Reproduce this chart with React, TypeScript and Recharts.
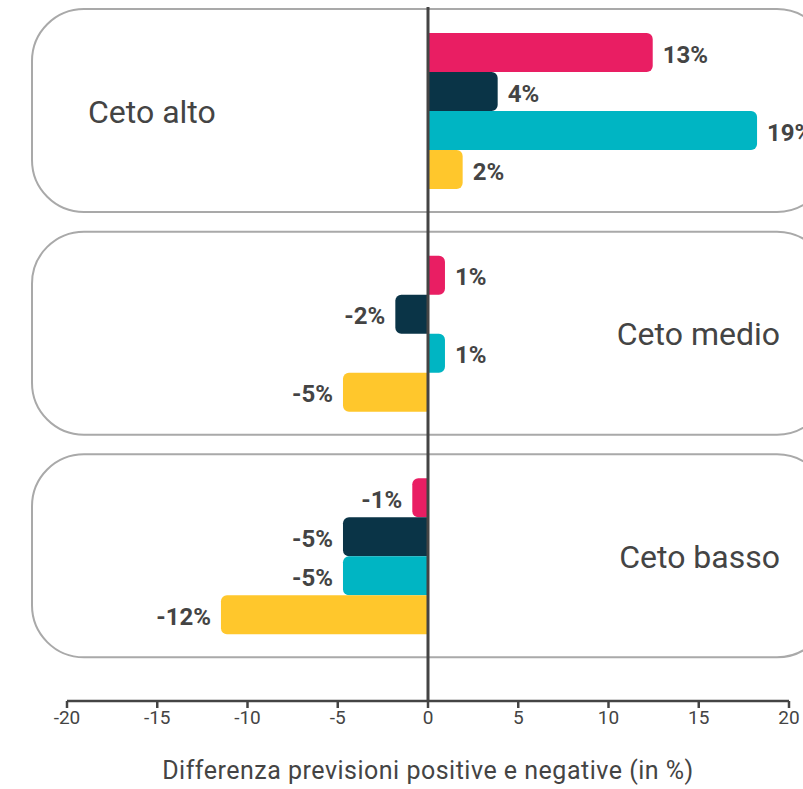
import { Bar, BarChart, LabelList, ReferenceLine, XAxis, YAxis } from "recharts";

const categories = ["Ceto alto", "Ceto medio", "Ceto basso"];

// bar lengths
const rosa = [12.45, 0.94, -0.87];
const blu = [3.86, -1.81, -4.71];
const azzurro = [18.23, 0.94, -4.71];
const giallo = [1.92, -4.71, -11.47];

// printed labels
const rosaLabel = [13, 1, -1];
const bluLabel = [4, -2, -5];
const azzurroLabel = [19, 1, -5];
const gialloLabel = [2, -5, -12];

const xTicks = [-20, -15, -10, -5, 0, 5, 10, 15, 20];

const data = categories.map((name, i) => ({
  name,
  rosa: rosa[i],
  blu: blu[i],
  azzurro: azzurro[i],
  giallo: giallo[i],
}));

const FONT = "Roboto, 'Open Sans', sans-serif";
const TEXT = "#444444";

function makeLabel(printed: number[]) {
  return (props: any) => {
    const vb = props.viewBox || props;
    const { x, y, width, height } = vb;
    const v = printed[props.index];
    const end = v >= 0 ? Math.max(x, x + width) : Math.min(x, x + width);
    return (
      <text
        x={v >= 0 ? end + 10 : end - 10}
        y={y + height / 2 + 2}
        textAnchor={v >= 0 ? "start" : "end"}
        dominantBaseline="central"
        fill={TEXT}
        fontFamily={FONT}
        fontWeight={700}
        fontSize={24}
      >
        {`${v}%`}
      </text>
    );
  };
}

function renderBox(props: any) {
  const { height, background, index } = props;
  const y = props.y - 1;
  const left = background.x - 35;
  const right = background.x + background.width + 40;
  const total = rosa[index] + blu[index] + azzurro[index] + giallo[index];
  const onLeft = total > 0;
  return (
    <g>
      <rect
        x={left}
        y={y}
        width={right - left}
        height={height}
        rx={52}
        ry={52}
        fill="#ffffff"
        stroke="#a9a9a9"
        strokeWidth={2}
      />
      <text
        x={onLeft ? left + 56 : background.x + background.width - 9}
        y={y + height / 2 + 1}
        textAnchor={onLeft ? "start" : "end"}
        dominantBaseline="central"
        fill={TEXT}
        fontFamily={FONT}
        fontSize={32}
      >
        {categories[index]}
      </text>
    </g>
  );
}

function renderZero(props: any) {
  return (
    <line
      x1={props.x1}
      x2={props.x2}
      y1={Math.min(props.y1, props.y2) + 7}
      y2={Math.max(props.y1, props.y2)}
      stroke={TEXT}
      strokeWidth={3}
    />
  );
}

const series = [
  { key: "rosa", color: "#E91E63", printed: rosaLabel },
  { key: "blu", color: "#0A3447", printed: bluLabel },
  { key: "azzurro", color: "#00B5C3", printed: azzurroLabel },
  { key: "giallo", color: "#FFC72C", printed: gialloLabel },
];

export default function App() {
  return (
    <div
      style={{
        position: "absolute",
        left: 0,
        top: 0,
        width: 803,
        height: 789,
        overflow: "hidden",
        background: "#ffffff",
      }}
    >
      <BarChart
        width={803}
        height={789}
        data={data}
        layout="vertical"
        margin={{ top: 0, right: 14, bottom: 0, left: 67 }}
        barGap={0}
        barCategoryGap={0}
      >
        <XAxis
          type="number"
          domain={[-20, 20]}
          ticks={xTicks}
          interval={0}
          height={88}
          axisLine={{ stroke: TEXT, strokeWidth: 2.5 }}
          tickLine={{ stroke: TEXT, strokeWidth: 2.5 }}
          tickSize={7}
          tickMargin={3}
          tick={{ fill: TEXT, fontSize: 19, fontFamily: FONT }}
          label={{
            value: "Differenza previsioni positive e negative (in %)",
            position: "insideBottom",
            offset: 10,
            fill: TEXT,
            fontSize: 25,
            letterSpacing: 0.5,
            fontFamily: FONT,
          }}
        />
        <YAxis yAxisId="box" type="category" dataKey="name" hide padding={{ top: 0, bottom: 33 }} />
        <YAxis type="category" dataKey="name" hide padding={{ top: 0, bottom: 33 }} />
        <Bar
          yAxisId="box"
          dataKey={() => 20}
          barSize={203}
          shape={renderBox}
          isAnimationActive={false}
        />
        {series.map((s) => (
          <Bar
            key={s.key}
            dataKey={s.key}
            fill={s.color}
            barSize={39}
            radius={[0, 6, 6, 0]}
            isAnimationActive={false}
          >
            <LabelList dataKey={s.key} content={makeLabel(s.printed)} />
          </Bar>
        ))}
        <ReferenceLine x={0} shape={renderZero} />
      </BarChart>
    </div>
  );
}
